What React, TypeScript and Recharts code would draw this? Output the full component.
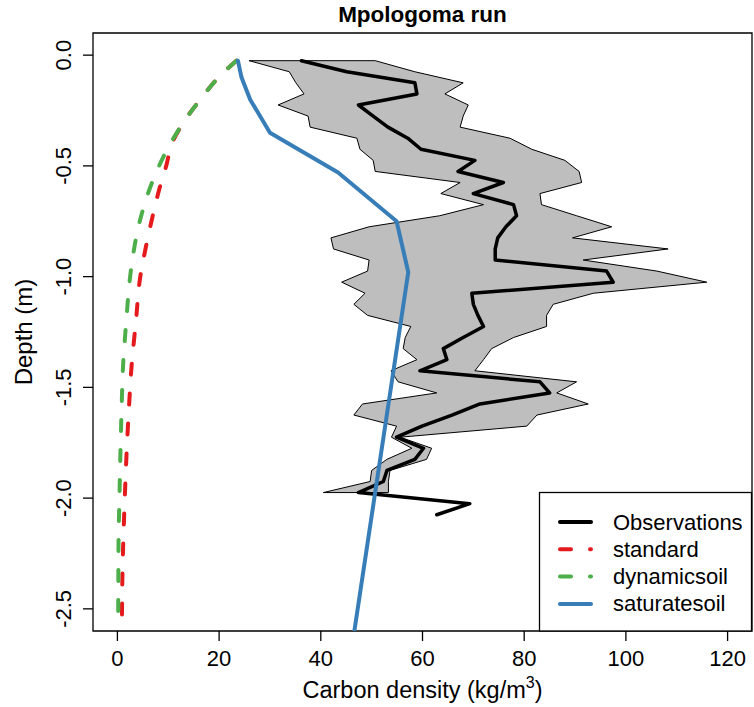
import { ScatterChart, Scatter, XAxis, YAxis, ReferenceArea, Label } from 'recharts'

const FONT = '"Liberation Sans", Arial, Helvetica, sans-serif'

// observation depths (m), mean carbon density and the min/max band (kg/m3)
const obsDepth = [
  -0.025, -0.075, -0.125, -0.175, -0.225, -0.275, -0.325, -0.375, -0.425, -0.475,
  -0.525, -0.575, -0.625, -0.675, -0.725, -0.775, -0.825, -0.875, -0.925, -0.975,
  -1.025, -1.075, -1.125, -1.175, -1.225, -1.275, -1.325, -1.375, -1.425, -1.475,
  -1.525, -1.575, -1.625, -1.675, -1.725, -1.775, -1.825, -1.875, -1.925, -1.975,
  -2.025, -2.075,
]
const obsMean = [
  36.2, 45.1, 58.5, 58.9, 47.4, 50.3, 53.2, 57.1, 59.7, 70.3,
  67.0, 75.9, 70.0, 77.9, 78.5, 76.4, 74.8, 74.3, 74.3, 96.2,
  97.5, 69.7, 70.0, 70.9, 72.0, 68.0, 64.1, 64.8, 59.5, 83.1,
  85.0, 71.3, 65.8, 59.9, 54.9, 60.2, 58.5, 53.0, 52.3, 47.4,
  69.3, 62.8,
]
const obsLow = [
  25.9, 33.8, 35.1, 36.7, 31.6, 37.5, 37.9, 47.1, 47.7, 50.3,
  50.7, 67.4, 63.6, 72.0, 63.4, 49.5, 42.0, 42.5, 49.5, 49.2,
  44.1, 48.7, 46.5, 49.2, 57.7, 56.6, 56.2, 58.9, 53.8, 55.2,
  62.8, 48.2, 46.5, 54.9, 53.9, 57.9, 53.0, 50.0, 49.7, 40.5,
]
const obsHigh = [
  50.7, 58.5, 68.0, 64.4, 69.0, 68.0, 67.4, 77.2, 81.5, 88.0,
  90.8, 91.3, 83.1, 83.4, 90.3, 97.2, 89.5, 108.3, 91.6, 106.1,
  115.9, 93.6, 85.7, 84.4, 84.4, 77.9, 73.6, 72.0, 70.3, 90.3,
  86.4, 92.6, 82.5, 80.5, 55.6, 61.8, 60.8, 53.6, 53.3, 53.3,
]

// model runs
const modelDepth = [
  -0.025, -0.1, -0.2, -0.3, -0.4, -0.5, -0.6, -0.75, -0.9, -1.0,
  -1.2, -1.4, -1.6, -1.8, -2.0, -2.2, -2.4, -2.55,
]
const standard = [
  23.4, 19.9, 16.3, 13.1, 10.7, 9.6, 8.3, 6.7, 5.3, 4.5,
  3.65, 2.8, 2.25, 1.8, 1.45, 1.15, 0.95, 0.9,
]
const dynamicsoil = [
  23.4, 19.9, 16.3, 13.1, 10.4, 8.2, 6.4, 4.4, 3.1, 2.5,
  1.75, 1.12, 0.82, 0.59, 0.4, 0.22, 0.18, 0.15,
]
const satDepth = [-0.025, -0.1, -0.2, -0.35, -0.53, -0.75, -0.98, -2.6]
const saturatesoil = [23.7, 24.4, 26.1, 30.0, 43.4, 54.9, 57.2, 46.6]

const xTicks = [0, 20, 40, 60, 80, 100, 120]
const yTicks = [0, -0.5, -1, -1.5, -2, -2.5]

const toPoints = (xs: number[], ys: number[]) => xs.map((x, i) => ({ x, y: ys[i] }))

const obsPoints = toPoints(obsMean, obsDepth)
const bandDepth = obsDepth.slice(0, obsLow.length)
// polygon: down the low edge, back up the high edge, closed
const bandPoints = [...toPoints(obsLow, bandDepth), ...toPoints(obsHigh, bandDepth).reverse()]
bandPoints.push(bandPoints[0])
const standardPoints = toPoints(standard, modelDepth)
const dynamicPoints = toPoints(dynamicsoil, modelDepth)
const saturatePoints = toPoints(saturatesoil, satDepth)

const legendRows = [
  { name: 'Observations', color: '#000000', dash: undefined },
  { name: 'standard', color: '#e41a1c', dash: '11 19' },
  { name: 'dynamicsoil', color: '#4daf4a', dash: '11 19' },
  { name: 'saturatesoil', color: '#377eb8', dash: undefined },
]

const NoDot = () => <g />

function XTick({ x, y, payload }: any) {
  return (
    <text x={x} y={y + 25} textAnchor="middle" fontSize={22} fontFamily={FONT} fill="#000">
      {payload.value}
    </text>
  )
}

function YTick({ x, y, payload }: any) {
  const bx = x - 12
  return (
    <text
      x={bx}
      y={y}
      transform={`rotate(-90 ${bx} ${y})`}
      textAnchor="middle"
      fontSize={22}
      fontFamily={FONT}
      fill="#000"
    >
      {payload.value.toFixed(1)}
    </text>
  )
}

function XTitle({ viewBox }: any) {
  return (
    <text
      x={viewBox.x + viewBox.width / 2}
      y={viewBox.y + 67}
      textAnchor="middle"
      fontSize={23.5}
      fontFamily={FONT}
      fill="#000"
    >
      Carbon density (kg/m
      <tspan dy={-10} fontSize={16}>3</tspan>
      <tspan dy={10}>)</tspan>
    </text>
  )
}

function YTitle({ viewBox }: any) {
  const cx = 32
  const cy = viewBox.y + viewBox.height / 2
  return (
    <text
      x={cx}
      y={cy}
      transform={`rotate(-90 ${cx} ${cy})`}
      textAnchor="middle"
      fontSize={24}
      fontFamily={FONT}
      fill="#000"
    >
      Depth (m)
    </text>
  )
}

export default function App() {
  return (
    <div style={{ position: 'absolute', left: 0, top: 0, width: 754, height: 707, background: '#fff' }}>
      <ScatterChart width={754} height={707} margin={{ top: 33, right: 2, left: 0, bottom: 0 }}>
        <XAxis
          type="number"
          dataKey="x"
          domain={[-4.8, 124.8]}
          ticks={xTicks}
          allowDataOverflow
          axisLine={false}
          tickSize={10}
          tickMargin={0}
          tickLine={{ stroke: '#000', strokeWidth: 1.3 }}
          tick={<XTick />}
          height={76}
        >
          <Label content={<XTitle />} />
        </XAxis>
        <YAxis
          type="number"
          dataKey="y"
          domain={[-2.6, 0.1]}
          ticks={yTicks}
          allowDataOverflow
          axisLine={false}
          tickSize={10}
          tickMargin={0}
          tickLine={{ stroke: '#000', strokeWidth: 1.3 }}
          tick={<YTick />}
          width={93}
        >
          <Label content={<YTitle />} />
        </YAxis>
        <Scatter
          data={bandPoints}
          shape={NoDot}
          line={{ stroke: '#000', strokeWidth: 1, fill: '#bebebe', strokeLinejoin: 'miter' }}
          isAnimationActive={false}
        />
        <Scatter
          data={obsPoints}
          shape={NoDot}
          line={{ stroke: '#000', strokeWidth: 3.5, strokeLinejoin: 'round', strokeLinecap: 'round' }}
          isAnimationActive={false}
        />
        <Scatter
          data={standardPoints}
          shape={NoDot}
          line={{ stroke: '#e41a1c', strokeWidth: 4, strokeDasharray: '11 19', strokeLinecap: 'round' }}
          lineJointType="monotoneY"
          isAnimationActive={false}
        />
        <Scatter
          data={dynamicPoints}
          shape={NoDot}
          line={{ stroke: '#4daf4a', strokeWidth: 4, strokeDasharray: '11 19', strokeLinecap: 'round' }}
          lineJointType="monotoneY"
          isAnimationActive={false}
        />
        <Scatter
          data={saturatePoints}
          shape={NoDot}
          line={{ stroke: '#377eb8', strokeWidth: 4, strokeLinejoin: 'round', strokeLinecap: 'round' }}
          isAnimationActive={false}
        />
        <ReferenceArea x1={-4.8} x2={124.8} y1={-2.6} y2={0.1} fill="none" stroke="#000" strokeWidth={1.3} />
      </ScatterChart>
      <svg width={754} height={707} style={{ position: 'absolute', left: 0, top: 0, pointerEvents: 'none' }}>
        <text x={422.5} y={22} textAnchor="middle" fontSize={22.5} fontWeight="bold" fontFamily={FONT} fill="#000">
          Mpologoma run
        </text>
        <rect x={539.5} y={492.5} width={212} height={138.5} fill="#fff" stroke="#000" strokeWidth={1.3} />
        {legendRows.map((r, i) => {
          const ly = 522 + i * 27.3
          return (
            <g key={r.name}>
              <line
                x1={560}
                x2={591}
                y1={ly}
                y2={ly}
                stroke={r.color}
                strokeWidth={4}
                strokeDasharray={r.dash}
                strokeLinecap="round"
              />
              <text x={613} y={ly + 7.5} fontSize={22} fontFamily={FONT} fill="#000">
                {r.name}
              </text>
            </g>
          )
        })}
      </svg>
    </div>
  )
}
